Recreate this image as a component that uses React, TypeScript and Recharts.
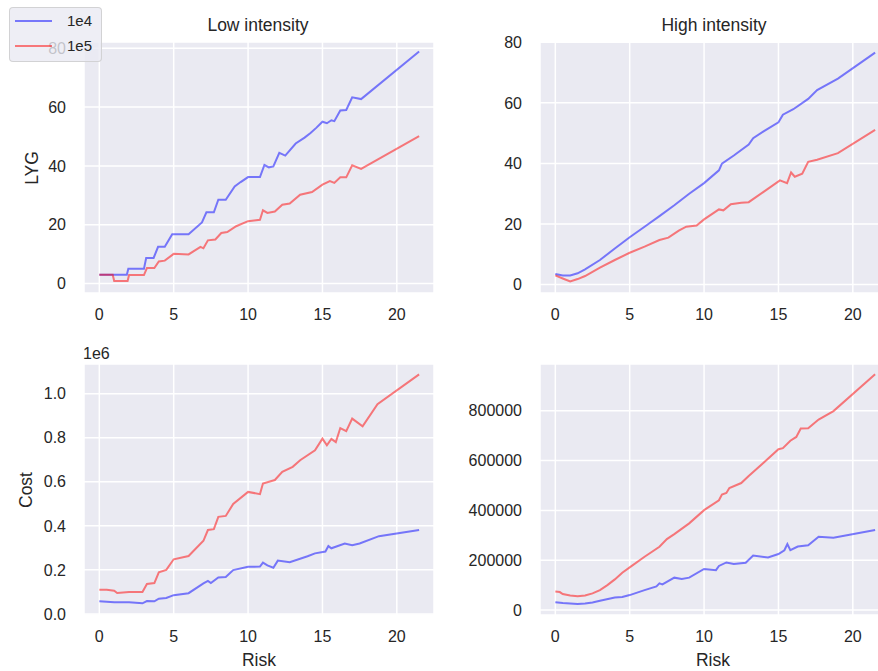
import { CartesianGrid, Legend, Line, LineChart, XAxis, YAxis } from "recharts";

const FONT = '"Liberation Sans", Arial, Helvetica, sans-serif';
const INK = "#262626";
const BLUE = "#0000ff";
const RED = "#ff0000";

const riskDomain = [-1.03, 22.5];
const riskTicks = [0, 5, 10, 15, 20];
const lygTicks = [0, 20, 40, 60, 80];
const lowCostTicks = [0, 200000, 400000, 600000, 800000, 1000000];
const highCostTicks = [0, 200000, 400000, 600000, 800000];
const seriesNames = ["1e4", "1e5"];

// LYG, low intensity
const lowLygRisk1e4 = [0, 1.85, 1.95, 3.0, 3.15, 3.65, 3.95, 4.4, 4.9, 6.0, 6.9, 7.2, 7.7, 8.0, 8.5, 9.1, 9.5, 10.0, 10.8, 11.1, 11.4, 11.7, 12.1, 12.5, 13.2, 13.8, 14.2, 14.6, 15.0, 15.3, 15.6, 15.8, 16.2, 16.6, 17.0, 17.6, 21.5];
const lowLyg1e4 = [3, 3, 5, 5, 8.7, 8.7, 12.5, 12.5, 16.8, 16.8, 20.8, 24.2, 24.2, 28.5, 28.5, 33, 34.5, 36.2, 36.2, 40.3, 39.5, 39.8, 44.4, 43.5, 47.6, 49.6, 51.2, 53, 55, 54.5, 55.5, 55.2, 58.8, 59, 63.3, 62.7, 78.9];
const lowLygRisk1e5 = [0, 0.9, 1.0, 1.9, 2.0, 3.0, 3.2, 3.7, 4.0, 4.4, 5.0, 6.0, 6.8, 7.0, 7.3, 7.8, 8.2, 8.6, 9.2, 10.0, 10.8, 11.0, 11.3, 11.8, 12.3, 12.8, 13.5, 14.3, 15.0, 15.5, 15.8, 16.2, 16.6, 17.0, 17.6, 21.5];
const lowLyg1e5 = [3, 3, 0.9, 0.9, 2.9, 2.9, 5.3, 5.3, 7.5, 7.8, 10.1, 9.9, 12.5, 12, 14.7, 15, 17.2, 17.5, 19.5, 21.2, 21.7, 24.9, 24, 24.5, 26.8, 27.2, 30.2, 31.1, 33.6, 34.8, 34.2, 36.1, 36.1, 40.2, 39, 50.1];

// LYG, high intensity
const highLygRisk1e4 = [0, 0.5, 1, 1.5, 2, 3, 4, 5, 6, 7, 8, 9, 10, 11, 11.2, 12, 13, 13.3, 14, 15, 15.3, 16, 17, 17.6, 19, 21.5];
const highLyg1e4 = [3.5, 3.0, 3.0, 3.7, 5.0, 8.1, 11.9, 15.6, 19.1, 22.6, 26.2, 30.0, 33.5, 37.7, 39.9, 42.6, 46.2, 48.3, 50.6, 53.6, 56.1, 57.9, 61.3, 64.2, 68, 76.6];
const highLygRisk1e5 = [0, 0.5, 1, 1.5, 2, 3, 4, 5, 6, 7, 7.6, 8.3, 8.8, 9.5, 10, 11, 11.3, 11.8, 12.5, 13, 14, 15.1, 15.58, 15.85, 16.1, 16.6, 17.0, 17.6, 19, 21.5];
const highLyg1e5 = [3, 2, 1, 1.8, 2.8, 5.6, 8.1, 10.5, 12.5, 14.7, 15.5, 17.8, 19.1, 19.5, 21.5, 24.8, 24.5, 26.5, 27, 27.2, 30.6, 34.4, 33.5, 37, 35.6, 36.6, 40.5, 41.2, 43.4, 51.1];

// Cost, low intensity
const lowCostRisk1e4 = [0, 1.0, 2.0, 2.9, 3.2, 3.7, 4.0, 4.5, 5.0, 6.0, 7.0, 7.3, 7.5, 8.0, 8.5, 9.0, 10.0, 10.8, 11.0, 11.3, 11.7, 12.0, 12.8, 14.0, 14.5, 15.2, 15.4, 15.6, 16.5, 17.0, 17.5, 18.8, 21.5];
const lowCost1e4 = [57000, 53000, 53000, 48000, 58000, 57000, 69000, 72000, 85000, 94000, 139000, 150000, 140000, 165000, 168000, 199000, 214000, 215000, 233000, 220000, 210000, 242000, 235000, 262000, 275000, 283000, 308000, 298000, 320000, 312000, 320000, 353000, 381000];
const lowCostRisk1e5 = [0, 0.5, 1.0, 1.2, 2.0, 2.9, 3.2, 3.7, 4.0, 4.5, 5.0, 6.0, 7.0, 7.3, 7.7, 8.0, 8.5, 9.0, 10.0, 10.8, 11.0, 11.8, 12.3, 13.0, 13.5, 14.5, 15.0, 15.3, 15.6, 15.9, 16.2, 16.6, 17.0, 17.7, 18.7, 21.5];
const lowCost1e5 = [110000, 110000, 105000, 95000, 100000, 100000, 136000, 140000, 189000, 200000, 248000, 263000, 332000, 381000, 385000, 441000, 445000, 499000, 554000, 544000, 592000, 608000, 645000, 668000, 698000, 743000, 796000, 766000, 795000, 780000, 844000, 830000, 887000, 852000, 952000, 1088000];

// Cost, high intensity
const highCostRisk1e4 = [0, 0.5, 1.5, 2, 2.5, 3, 4, 4.5, 5, 6, 6.8, 7.0, 7.2, 8, 8.5, 9, 10, 10.8, 11, 11.5, 12, 12.8, 13.3, 14.3, 15, 15.4, 15.6, 15.8, 16.3, 17, 17.7, 18.7, 21.5];
const highCost1e4 = [31000, 28000, 24000, 26000, 30000, 37000, 50000, 52000, 60000, 80000, 95000, 107000, 103000, 130000, 125000, 130000, 165000, 160000, 177000, 191000, 185000, 190000, 219000, 211000, 225000, 240000, 265000, 240000, 255000, 260000, 294000, 290000, 321000];
const highCostRisk1e5 = [0, 0.3, 0.5, 1, 1.5, 2, 2.5, 3, 3.5, 4, 4.5, 5, 6, 7, 7.5, 8, 9, 10, 11, 11.2, 11.5, 11.7, 12.5, 13, 14, 15, 15.3, 15.8, 16.2, 16.5, 17, 17.7, 18.7, 21.5];
const highCost1e5 = [74000, 72000, 64000, 58000, 55000, 58000, 67000, 80000, 100000, 123000, 150000, 171000, 214000, 254000, 285000, 305000, 348000, 401000, 441000, 464000, 470000, 490000, 510000, 538000, 591000, 646000, 650000, 680000, 695000, 729000, 730000, 765000, 799000, 947000];

const toPoints = (xs: number[], ys: number[]) => xs.map((x, i) => ({ x, y: ys[i] }));

const axisTick = { fill: INK, fontSize: 16, fontFamily: FONT };

function LegendBox() {
  return (
    <div
      style={{
        width: 93,
        height: 55,
        boxSizing: "border-box",
        background: "rgba(234,234,242,0.8)",
        border: "1px solid rgba(204,204,204,0.8)",
        borderRadius: 4,
        position: "relative",
        fontFamily: FONT,
        fontSize: 15,
        color: INK,
      }}
    >
      {seriesNames.map((name, i) => (
        <div key={name} style={{ position: "absolute", left: 0, top: 3 + i * 25, height: 20, width: 93 }}>
          <div
            style={{
              position: "absolute",
              left: 5,
              top: 9,
              width: 37,
              height: 2,
              background: i === 0 ? BLUE : RED,
              opacity: 0.5,
            }}
          />
          <span style={{ position: "absolute", left: 57, top: 1, lineHeight: "18px" }}>{name}</span>
        </div>
      ))}
    </div>
  );
}

interface PanelProps {
  left: number;
  top: number;
  width: number;
  height: number;
  plotTop: number;
  rightPad: number;
  yAxisWidth: number;
  xAxisHeight: number;
  yDomain: number[];
  yTicks: number[];
  yFormat: (v: number) => string;
  blue: { x: number; y: number }[];
  red: { x: number; y: number }[];
  legend?: boolean;
  children?: React.ReactNode;
}

function Panel(p: PanelProps) {
  return (
    <div style={{ position: "absolute", left: p.left, top: p.top }}>
      <LineChart
        width={p.width}
        height={p.height}
        margin={{ top: p.plotTop, right: p.rightPad, bottom: 0, left: 0 }}
      >
        <CartesianGrid fill="#EAEAF2" fillOpacity={1} stroke="#ffffff" strokeWidth={1.5} />
        <XAxis
          type="number"
          dataKey="x"
          domain={riskDomain}
          ticks={riskTicks}
          allowDataOverflow
          tickLine={false}
          axisLine={false}
          tickSize={0}
          tickMargin={16}
          height={p.xAxisHeight}
          tick={axisTick}
        />
        <YAxis
          type="number"
          dataKey="y"
          domain={p.yDomain}
          ticks={p.yTicks}
          allowDataOverflow
          tickLine={false}
          axisLine={false}
          tickSize={0}
          tickMargin={18}
          width={p.yAxisWidth}
          tick={axisTick}
          tickFormatter={p.yFormat}
        />
        <Line data={p.blue} dataKey="y" name={seriesNames[0]} type="linear" stroke={BLUE} strokeOpacity={0.5} strokeWidth={2} dot={false} isAnimationActive={false} />
        <Line data={p.red} dataKey="y" name={seriesNames[1]} type="linear" stroke={RED} strokeOpacity={0.5} strokeWidth={2} dot={false} isAnimationActive={false} />
        {p.legend && (
          <Legend
            layout="vertical"
            align="center"
            verticalAlign="middle"
            wrapperStyle={{ left: 9, top: 7, width: 93, height: 55 }}
            content={() => <LegendBox />}
          />
        )}
        {p.children}
      </LineChart>
    </div>
  );
}

const labelStyle = { fill: INK, fontSize: 17.5, fontFamily: FONT };

export default function App() {
  const plain = (v: number) => String(v);
  const millions = (v: number) => (v / 1e6).toFixed(1);
  return (
    <div
      style={{
        position: "fixed",
        left: 0,
        top: 0,
        width: 878,
        height: 671,
        overflow: "hidden",
        background: "#ffffff",
        fontFamily: FONT,
      }}
    >
      <Panel
        left={0}
        top={0}
        width={440}
        height={330}
        plotTop={42}
        rightPad={6}
        yAxisWidth={84}
        xAxisHeight={37}
        yDomain={[-3.2, 82.1]}
        yTicks={lygTicks}
        yFormat={plain}
        blue={toPoints(lowLygRisk1e4, lowLyg1e4)}
        red={toPoints(lowLygRisk1e5, lowLyg1e5)}
        legend
      >
        <text x={258} y={25} textAnchor="middle" dominantBaseline="central" style={labelStyle}>
          Low intensity
        </text>
        <text x={32} y={168} textAnchor="middle" dominantBaseline="central" transform="rotate(-90 32 168)" style={labelStyle}>
          LYG
        </text>
      </Panel>
      <Panel
        left={440}
        top={0}
        width={450}
        height={330}
        plotTop={42}
        rightPad={0}
        yAxisWidth={100}
        xAxisHeight={37}
        yDomain={[-2.8, 80.1]}
        yTicks={lygTicks}
        yFormat={plain}
        blue={toPoints(highLygRisk1e4, highLyg1e4)}
        red={toPoints(highLygRisk1e5, highLyg1e5)}
      >
        <text x={274} y={25} textAnchor="middle" dominantBaseline="central" style={labelStyle}>
          High intensity
        </text>
      </Panel>
      <Panel
        left={0}
        top={330}
        width={440}
        height={341}
        plotTop={34}
        rightPad={6}
        yAxisWidth={84}
        xAxisHeight={56}
        yDomain={[-5000, 1135000]}
        yTicks={lowCostTicks}
        yFormat={millions}
        blue={toPoints(lowCostRisk1e4, lowCost1e4)}
        red={toPoints(lowCostRisk1e5, lowCost1e5)}
      >
        <text x={83} y={23} textAnchor="start" dominantBaseline="central" style={{ ...labelStyle, fontSize: 16 }}>
          1e6
        </text>
        <text x={26} y={160} textAnchor="middle" dominantBaseline="central" transform="rotate(-90 26 160)" style={labelStyle}>
          Cost
        </text>
        <text x={259} y={330} textAnchor="middle" dominantBaseline="central" style={labelStyle}>
          Risk
        </text>
      </Panel>
      <Panel
        left={440}
        top={330}
        width={450}
        height={341}
        plotTop={34}
        rightPad={0}
        yAxisWidth={100}
        xAxisHeight={56}
        yDomain={[-20000, 988000]}
        yTicks={highCostTicks}
        yFormat={plain}
        blue={toPoints(highCostRisk1e4, highCost1e4)}
        red={toPoints(highCostRisk1e5, highCost1e5)}
      >
        <text x={273} y={330} textAnchor="middle" dominantBaseline="central" style={labelStyle}>
          Risk
        </text>
      </Panel>
    </div>
  );
}
